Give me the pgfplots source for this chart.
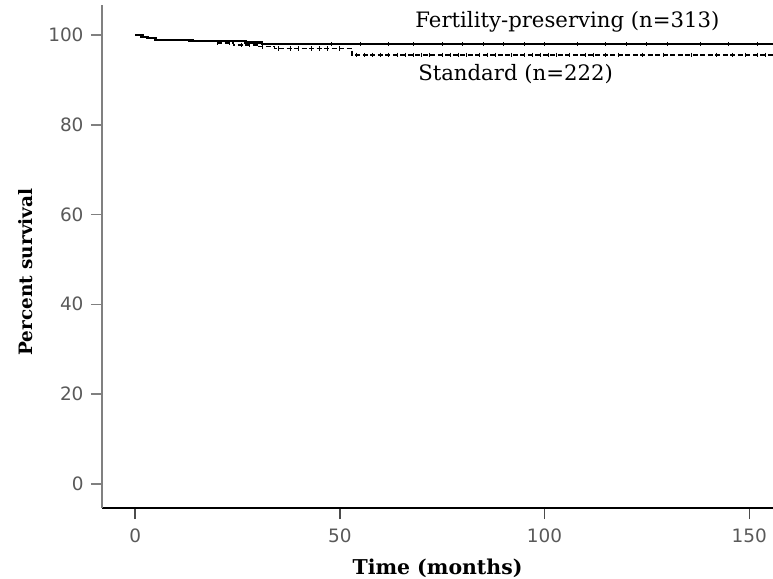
\documentclass[border=0pt]{standalone}
\usepackage{pgfplots}
\pgfplotsset{compat=1.18}
\usepackage{fontspec}
\setmainfont{DejaVu Serif}
\newfontfamily\ticksfont{DejaVu Sans}
\newfontfamily\labfont{DejaVu Serif}
\begin{document}
\begin{tikzpicture}
\begin{axis}[
  at={(0,0)}, anchor=south west,
  scale only axis, width=671bp, height=503bp,
  xmin=-8.1, xmax=155.8, ymin=-5.4, ymax=106.7,
  axis x line=bottom, axis y line=left,
  x axis line style={-, black, line width=2bp},
  y axis line style={-, gray, line width=2bp},
  xtick={0,50,100,150}, ytick={0,20,40,60,80,100},
  tick align=outside, major tick length=11bp,
  x tick style={black!70, line width=1.5bp},
  y tick style={gray, line width=1.5bp},
  /pgf/number format/assume math mode=true,
  tick label style={font=\ticksfont\fontsize{18.5}{20}\selectfont, text=black!65},
  yticklabel style={xshift=-4bp},
  xticklabel style={yshift=-6bp},
  xlabel={Time (months)}, ylabel={Percent survival},
  xlabel style={font=\labfont\bfseries\fontsize{20.5}{22}\selectfont, at={(rel axis cs:0.5,0)}, anchor=base, yshift=-66bp},
  ylabel style={font=\labfont\bfseries\fontsize{18.5}{20}\selectfont, at={(rel axis cs:0,0.469)}, anchor=center, rotate=0, yshift=76bp},
  clip=false,
]
% Fertility-preserving (solid)
\addplot[const plot, black, line width=2.6bp] coordinates {
 (0,100) (1.5,99.6) (3,99.3) (5,98.9) (14,98.7) (27,98.4) (31,98.0) (155.8,98.0)};
% Standard (dashed)
\addplot[const plot, black, line width=1.4bp, dash pattern=on 5bp off 2.5bp] coordinates {
 (0,100) (2,99.5) (5,98.8) (13,98.5) (20,98.2) (24,97.8) (30,97.4) (34,97.0) (52,97.0) (53,95.6) (155.8,95.6)};
% censor marks
\addplot[only marks, mark=|, mark size=2.2bp, black, mark options={line width=1bp}] coordinates {
 (20,98.2) (23,98.2) (26,97.8) (28,97.8) (31,97.4) (35,97.0) (38,97.0) (40,97.0) (43,97.0) (45,97.0) (47,97.0) (50,97.0)
 (54,95.6) (56,95.6) (58,95.6) (60,95.6) (62,95.6) (64,95.6) (66,95.6) (68,95.6) (70,95.6) (72,95.6) (75,95.6) (77,95.6)
 (79,95.6) (81,95.6) (84,95.6) (86,95.6) (88,95.6) (92,95.6) (95,95.6) (97,95.6) (99,95.6) (101,95.6) (103,95.6) (106,95.6)
 (110,95.6) (112,95.6) (115,95.6) (118,95.6) (124,95.6) (129,95.6) (136,95.6) (142,95.6) (146,95.6) (149,95.6) (152,95.6) (154,95.6)};
\addplot[only marks, mark=|, mark size=2bp, black, mark options={line width=1bp}] coordinates {
 (48,98.0) (55,98.0) (62,98.0) (68,98.0) (75,98.0) (80,98.0) (85,98.0) (90,98.0) (95,98.0) (100,98.0) (108,98.0)
 (115,98.0) (120,98.0) (125,98.0) (130,98.0) (138,98.0) (145,98.0) (152,98.0)};
\node[anchor=base west, font=\fontsize{21.3}{23}\selectfont, inner sep=0pt] at (axis cs:68.4,101.6) {Fertility-preserving (n=313)};
\node[anchor=base west, font=\fontsize{21.3}{23}\selectfont, inner sep=0pt] at (axis cs:69.1,89.9) {Standard (n=222)};
\end{axis}
\pgfresetboundingbox
\useasboundingbox (-102bp,-71bp) rectangle (671bp,508bp);
\end{tikzpicture}
\end{document}
